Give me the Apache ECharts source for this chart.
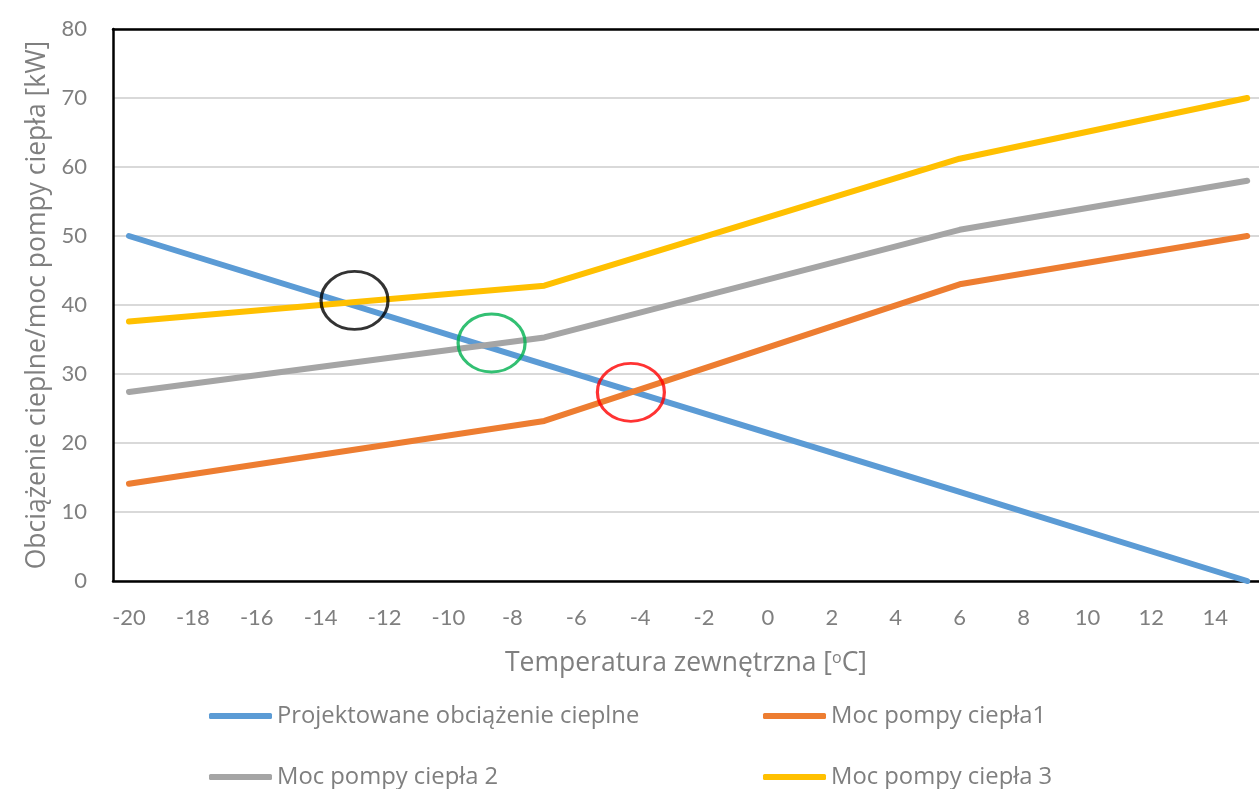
<!DOCTYPE html>
<html>
<head>
<meta charset="utf-8">
<script src="https://cdn.jsdelivr.net/npm/echarts@6/dist/echarts.min.js"></script>
<style>
  html, body { margin: 0; padding: 0; background: #fff; }
  #chart { width: 1259px; height: 789px; }
</style>
</head>
<body>
<div id="chart"></div>
<script>
// Outdoor temperature break points [°C]
const temps = [-20, -7, 6, 15];
// Design heat load and heat pump capacities [kW]
const heatLoad = [50, 31.4, 12.9, 0];
const pump1 = [14.1, 23.2, 43.0, 50.0];
const pump2 = [27.4, 35.3, 50.9, 58.0];
const pump3 = [37.6, 42.8, 61.2, 70.0];
// X-axis tick labels
const xTicks = [-20, -18, -16, -14, -12, -10, -8, -6, -4, -2, 0, 2, 4, 6, 8, 10, 12, 14];
// Balance points highlighted with ellipses: [temperature, kW]
const balanceBlack = [-12.94, 40.66];
const balanceGreen = [-8.65, 34.49];
const balanceRed = [-4.29, 27.34];

const names = ['Projektowane obciążenie cieplne', 'Moc pompy ciepła1', 'Moc pompy ciepła 2', 'Moc pompy ciepła 3'];
const colors = ['#5b9bd5', '#ed7d31', '#a5a5a5', '#ffc000'];
const seriesValues = [heatLoad, pump1, pump2, pump3];

const FONT = 'Lato';
const TITLE_FONT = 'Open Sans';
const GREY = '#7f7f7f';

const lineSeries = seriesValues.map((vals, i) => ({
  name: names[i],
  type: 'line',
  data: temps.map((t, k) => [t, vals[k]]),
  showSymbol: false,
  symbol: 'none',
  color: colors[i],
  lineStyle: { width: 6, color: colors[i], cap: 'round', join: 'round' },
  z: 3 + (i === 0 ? 0 : 1)
}));

const ellipse = (pt, col) => ({
  value: pt,
  itemStyle: { color: 'rgba(0,0,0,0)', borderColor: col, borderWidth: 3 }
});

const legendItem = (name, left, top) => ({
  data: [name],
  left: left,
  top: top,
  icon: 'roundRect',
  itemWidth: 63,
  itemHeight: 6,
  textStyle: { fontFamily: TITLE_FONT, fontSize: 23.8, color: GREY }
});

const chart = echarts.init(document.getElementById('chart'), null, { renderer: 'canvas' });
chart.setOption({
  animation: false,
  backgroundColor: '#fff',
  grid: { left: 113, right: -3, top: 29, bottom: 208, containLabel: false },
  legend: [
    legendItem(names[0], 204, 699),
    legendItem(names[1], 758, 699),
    legendItem(names[2], 204, 760),
    legendItem(names[3], 758, 760)
  ],
  xAxis: [{
    type: 'value',
    min: -20.5,
    max: 15.37,
    name: 'Temperatura zewnętrzna [{sup|o}C]',
    nameLocation: 'middle',
    nameGap: 69,
    nameTextStyle: {
      fontFamily: TITLE_FONT, fontSize: 26.5, color: GREY,
      rich: { sup: { fontFamily: TITLE_FONT, fontSize: 16, color: GREY, verticalAlign: 'top', padding: [0, 0, 10, 0] } }
    },
    axisLine: { show: true, onZero: false, lineStyle: { color: '#000', width: 2.5 } },
    axisTick: { show: false },
    splitLine: { show: false },
    axisLabel: {
      customValues: xTicks,
      margin: 26,
      fontFamily: FONT, fontSize: 22, color: GREY
    }
  }, {
    type: 'value',
    position: 'top',
    min: -20.5,
    max: 15.37,
    axisLine: { show: true, onZero: false, lineStyle: { color: '#000', width: 2.5 } },
    axisTick: { show: false },
    axisLabel: { show: false },
    splitLine: { show: false }
  }],
  yAxis: {
    type: 'value',
    min: 0,
    max: 80,
    interval: 10,
    name: 'Obciążenie cieplne/moc pompy ciepła [kW]',
    nameLocation: 'middle',
    nameGap: 62,
    nameTextStyle: { fontFamily: TITLE_FONT, fontSize: 26.5, color: GREY },
    axisLine: { show: true, onZero: false, lineStyle: { color: '#000', width: 2.5 } },
    axisTick: { show: false },
    axisLabel: { margin: 26, fontFamily: FONT, fontSize: 22, color: GREY },
    splitLine: { show: true, lineStyle: { color: '#d9d9d9', width: 2 } }
  },
  series: lineSeries.concat([{
    name: 'balance',
    type: 'scatter',
    symbol: 'circle',
    symbolSize: [67, 58],
    z: 10,
    silent: true,
    data: [
      ellipse(balanceBlack, '#000000'),
      ellipse(balanceGreen, '#00b050'),
      ellipse(balanceRed, '#ff0000')
    ]
  }])
});
</script>
</body>
</html>
